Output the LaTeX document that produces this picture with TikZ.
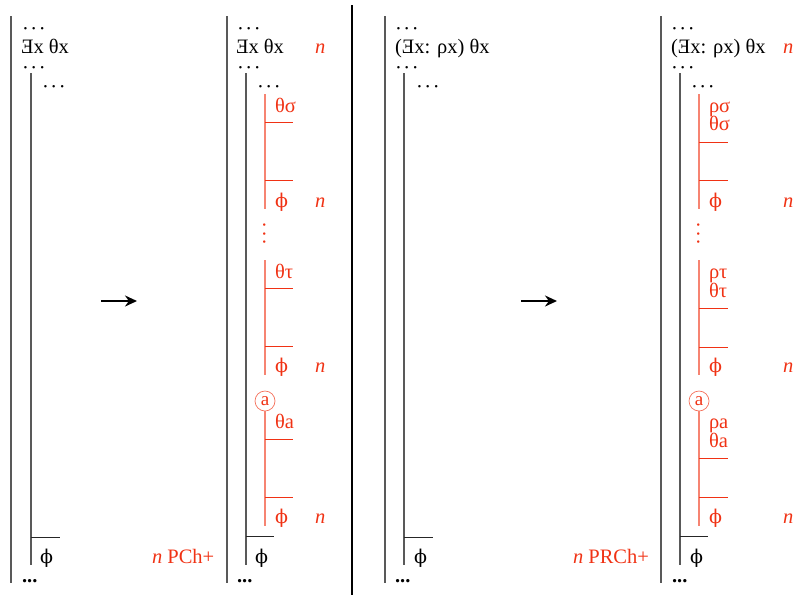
\documentclass[tikz,border=0pt]{standalone}
\usepackage{fontspec}
\setmainfont{Liberation Serif}
\newfontfamily\phifont{DejaVu Serif}
\usetikzlibrary{arrows.meta}
\definecolor{redc}{RGB}{240,50,20}
\newcommand\exq{\reflectbox{E}}
\newcommand\cdt{·\kern1.6pt·\kern1.6pt·}
\newcommand\phs{{\phifont\fontsize{19}{22}\selectfont ϕ}}
\begin{document}
\begin{tikzpicture}[x=1pt,y=-1pt,
  font=\fontsize{20.5}{24}\selectfont,
  txt/.style={anchor=base west, inner sep=0pt, outer sep=0pt},
  rtxt/.style={txt, text=redc},
  bar/.style={draw=black!65, line width=1.3pt},
  rbar/.style={draw=redc!60, line width=1.2pt},
  hl/.style={draw=black!85, line width=0.9pt},
  rhl/.style={draw=redc, line width=0.9pt},
  circa/.style={circle, draw=redc!70, line width=0.7pt, text=redc, inner sep=0pt, minimum size=20pt, font=\fontsize{19}{21}\selectfont},
  vdt/.style={rotate=90, text=redc, inner sep=0pt},
  bigarrow/.style={-{Stealth[length=12pt,width=11pt]}, line width=2.8pt}]
\useasboundingbox (0,0) rectangle (794,595);

% divider
\draw[line width=1.8pt] (352,5) -- (352,595);

% arrows
\coordinate (a1s) at (101,301); \coordinate (a1e) at (137,301);
\coordinate (a2s) at (521,301); \coordinate (a2e) at (557,301);
\draw[bigarrow] (a1s) -- (a1e);
\draw[bigarrow] (a2s) -- (a2e);

% ---------------- panel 1
\draw[bar] (11,16) -- (11,583);
\draw[bar] (31,73) -- (31,565);
\draw[hl] (31,537) -- (60,537);
\node[txt] (p1d1) at (22,35) {\cdt};
\node[txt] (p1t) at (21,53) {\exq x θx};
\node[txt] (p1d2) at (22,74) {\cdt};
\node[txt] (p1d3) at (42,93) {\cdt};
\node[txt] (p1f) at (40,563) {\phs};
\node[txt] (p1e) at (22,582) {\textbf{...}};
\node[rtxt] (p1r) at (152,563) {\textit{n} PCh+};

% ---------------- panel 2
\draw[bar] (227,16) -- (227,583);
\draw[bar] (246,73) -- (246,565);
\draw[hl] (246,536) -- (274,536);
\node[txt] (p2d1) at (237,35) {\cdt};
\node[txt] (p2t) at (236,53) {\exq x θx};
\node[rtxt] (p2n0) at (315,53) {\textit{n}};
\node[txt] (p2d2) at (237,74) {\cdt};
\node[txt] (p2d3) at (257,93) {\cdt};
% sub 1
\draw[rbar] (265,94) -- (265,209);
\node[rtxt] (p2a1) at (275,112) {θσ};
\draw[rhl] (265,122) -- (293,122);
\draw[rhl] (265,180) -- (293,180);
\node[rtxt] (p2f1) at (275,207) {\phs};
\node[rtxt] (p2n1) at (315,207) {\textit{n}};
\node[vdt] (p2v) at (267,234) {\cdt};
% sub 2
\draw[rbar] (265,260) -- (265,375);
\node[rtxt] (p2a2) at (275,278) {θτ};
\draw[rhl] (265,288) -- (293,288);
\draw[rhl] (265,346) -- (293,346);
\node[rtxt] (p2f2) at (275,372) {\phs};
\node[rtxt] (p2n2) at (315,372) {\textit{n}};
% sub 3
\node[circa] (p2c) at (265,401) {a};
\draw[rbar] (p2c.south) -- (265,526);
\node[rtxt] (p2a3) at (275,428) {θa};
\draw[rhl] (265,439) -- (293,439);
\draw[rhl] (265,497) -- (293,497);
\node[rtxt] (p2f3) at (275,523) {\phs};
\node[rtxt] (p2n3) at (315,523) {\textit{n}};
\node[txt] (p2f) at (255,563) {\phs};
\node[txt] (p2e) at (237,582) {\textbf{...}};

% ---------------- panel 3
\draw[bar] (385,16) -- (385,583);
\draw[bar] (404,73) -- (404,565);
\draw[hl] (404,537) -- (433,537);
\node[txt] (p3d1) at (395,35) {\cdt};
\node[txt] (p3t) at (395,53) {(\exq x: ρx) θx};
\node[txt] (p3d2) at (395,74) {\cdt};
\node[txt] (p3d3) at (416,93) {\cdt};
\node[txt] (p3f) at (414,563) {\phs};
\node[txt] (p3e) at (395,582) {\textbf{...}};
\node[rtxt] (p3r) at (573,563) {\textit{n} PRCh+};

% ---------------- panel 4
\draw[bar] (661,16) -- (661,583);
\draw[bar] (680,73) -- (680,565);
\draw[hl] (680,536) -- (708,536);
\node[txt] (p4d1) at (671,35) {\cdt};
\node[txt] (p4t) at (671,53) {(\exq x: ρx) θx};
\node[rtxt] (p4n0) at (783,53) {\textit{n}};
\node[txt] (p4d2) at (671,74) {\cdt};
\node[txt] (p4d3) at (691,93) {\cdt};
% sub 1
\draw[rbar] (699,94) -- (699,209);
\node[rtxt] (p4r1) at (709,112) {ρσ};
\node[rtxt] (p4a1) at (709,130) {θσ};
\draw[rhl] (699,142) -- (728,142);
\draw[rhl] (699,180) -- (728,180);
\node[rtxt] (p4f1) at (709,207) {\phs};
\node[rtxt] (p4n1) at (783,207) {\textit{n}};
\node[vdt] (p4v) at (701,234) {\cdt};
% sub 2
\draw[rbar] (699,260) -- (699,375);
\node[rtxt] (p4r2) at (709,278) {ρτ};
\node[rtxt] (p4a2) at (709,297) {θτ};
\draw[rhl] (699,308) -- (728,308);
\draw[rhl] (699,347) -- (728,347);
\node[rtxt] (p4f2) at (709,372) {\phs};
\node[rtxt] (p4n2) at (783,372) {\textit{n}};
% sub 3
\node[circa] (p4c) at (699,401) {a};
\draw[rbar] (p4c.south) -- (699,526);
\node[rtxt] (p4r3) at (709,428) {ρa};
\node[rtxt] (p4a3) at (709,447) {θa};
\draw[rhl] (699,458) -- (728,458);
\draw[rhl] (699,497) -- (728,497);
\node[rtxt] (p4f3) at (709,523) {\phs};
\node[rtxt] (p4n3) at (783,523) {\textit{n}};
\node[txt] (p4f) at (690,563) {\phs};
\node[txt] (p4e) at (672,582) {\textbf{...}};
\end{tikzpicture}
\end{document}
